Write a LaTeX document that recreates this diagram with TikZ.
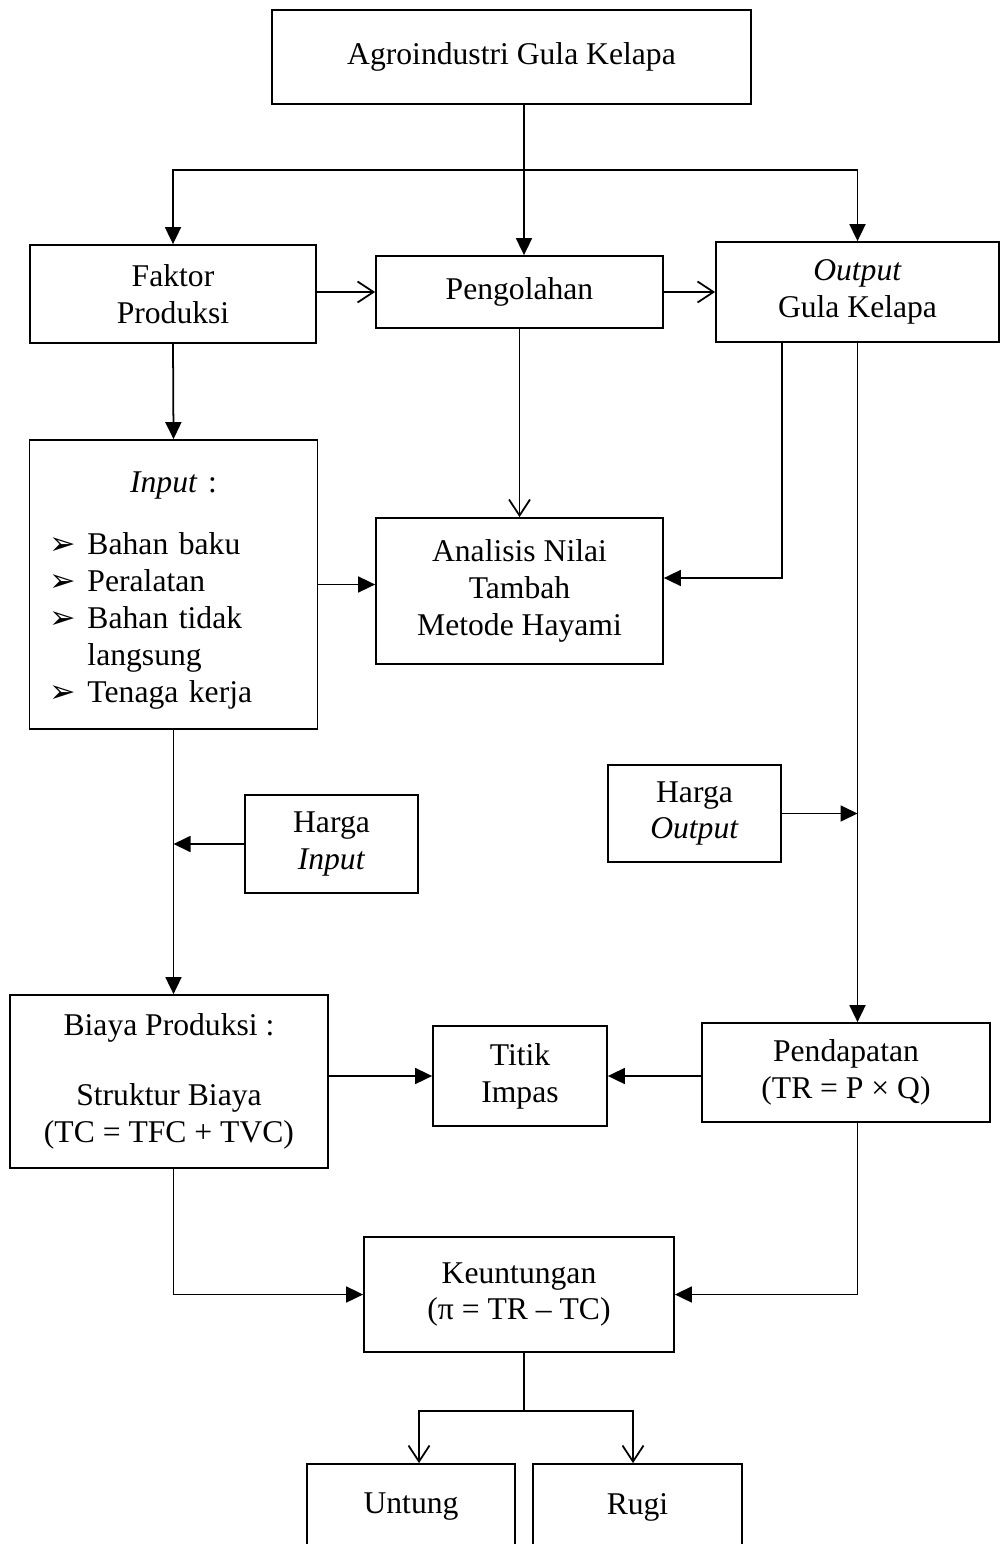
\documentclass[tikz,border=0pt]{standalone}
\usepackage{fontspec}
\setmainfont{Liberation Serif}
\newfontfamily\dejavu{DejaVu Sans}
\usetikzlibrary{arrows.meta}
\newcommand{\pointer}{{\dejavu\fontsize{18}{21}\selectfont ➢}}
\tikzset{
  box/.style={draw, align=center, inner sep=0pt, font=\fontsize{18}{21}\selectfont},
  fill tip/.style={-{Triangle[length=3.4mm,width=3.2mm]}},
  open tip/.style={-{Straight Barb[length=3.2mm,width=4.2mm]}},
}
\begin{document}
\begin{tikzpicture}[x=0.2mm, y=-0.2mm, line width=1pt]
  \useasboundingbox (0,0) rectangle (1000,1544);
  \node[box, minimum width=95.8mm, minimum height=18.8mm] (agro) at (511.5,57) {Agroindustri Gula Kelapa};
  \node[box, minimum width=57.2mm, minimum height=19.6mm] (faktor) at (173,294) {Faktor\\Produksi};
  \node[box, minimum width=57.4mm, minimum height=14.4mm] (pengolahan) at (519.5,292) {Pengolahan};
  \node[box, minimum width=56.6mm, minimum height=20mm] (output) at (857.5,292) {\textit{Output}\\Gula Kelapa};
  \node[draw, inner xsep=0pt, inner ysep=0pt, text width=57.6mm, minimum height=57.8mm,
        font=\fontsize{18}{21}\selectfont] (input) at (173.5,584.5) {%
    \centering\rule{0pt}{7.4mm}\textit{Input} :\par\vspace{16pt}
    \raggedright\hspace*{4mm}\begin{tabular}{@{}p{7.6mm}@{}l@{}}
      \pointer & Bahan baku\\
      \pointer & Peralatan\\
      \pointer & Bahan tidak\\
               & langsung\\
      \pointer & Tenaga kerja
    \end{tabular}\par};
  \node[box, minimum width=57.4mm, minimum height=29.2mm] (analisis) at (519.5,591) {Analisis Nilai\\Tambah\\Metode Hayami};
  \node[box, minimum width=34.6mm, minimum height=19.4mm] (hargaout) at (694.5,813.5) {Harga\\\textit{Output}};
  \node[box, minimum width=34.6mm, minimum height=19.6mm] (hargain) at (331.5,844) {Harga\\\textit{Input}};
  \node[box, minimum width=63.6mm, minimum height=34.6mm] (biaya) at (169,1081.5) {Biaya Produksi :\\[19pt]Struktur Biaya\\(TC = TFC + TVC)};
  \node[box, minimum width=34.8mm, minimum height=20mm] (titik) at (520,1076) {Titik\\Impas};
  \node[box, minimum width=57.6mm, minimum height=19.8mm] (pendapatan) at (846,1072.5) {Pendapatan\\(TR = P × Q)};
  \node[box, minimum width=62mm, minimum height=23mm] (keuntungan) at (519,1294.5) {Keuntungan\\(π = TR – TC)};
  \node[box, minimum width=41.6mm, minimum height=17.2mm] (untung) at (411,1507) {Untung};
  \node[box, minimum width=41.8mm, minimum height=17.2mm] (rugi) at (637.5,1507) {Rugi};
  % top split
  \coordinate (split) at (524,170);
  \draw (split |- agro.south) -- (split);
  \draw[fill tip] (split) -| (faktor.north);
  \draw[fill tip] (split) -- (split |- pengolahan.north);
  \draw[fill tip] (split) -| (output.north);
  % processing row
  \draw[open tip] (faktor.east |- pengolahan.west) -- (pengolahan.west);
  \draw[open tip] (pengolahan.east) -- (pengolahan.east -| output.west);
  \draw[open tip] (pengolahan.south) -- (analisis.north);
  \draw[fill tip] (faktor.south) -- (input.north);
  \draw[fill tip] (input.east) -- (input.east -| analisis.west);
  \draw[fill tip] (output.south -| hargaout.east) |- ([yshift=2.6mm]analisis.east);
  % prices
  \draw[fill tip] (output.south) -- (output.south |- pendapatan.north);
  \draw[fill tip] (hargaout.east) -- (hargaout.east -| output.south);
  \draw[fill tip] (input.south) -- (input.south |- biaya.north);
  \draw[fill tip] (hargain.west) -- (hargain.west -| input.south);
  % costs and revenue
  \draw[fill tip] (biaya.east |- titik.west) -- (titik.west);
  \draw[fill tip] (pendapatan.west |- titik.east) -- (titik.east);
  \draw[fill tip] (biaya.south -| input.south) |- (keuntungan.west);
  \draw[fill tip] (pendapatan.south -| output.south) |- (keuntungan.east);
  % result
  \draw (keuntungan.south -| split) -- ++(0,58) coordinate (fork);
  \draw[open tip] (fork) -| ([xshift=1.6mm]untung.north);
  \draw[open tip] (fork) -| ([xshift=-0.9mm]rugi.north);
\end{tikzpicture}
\end{document}
